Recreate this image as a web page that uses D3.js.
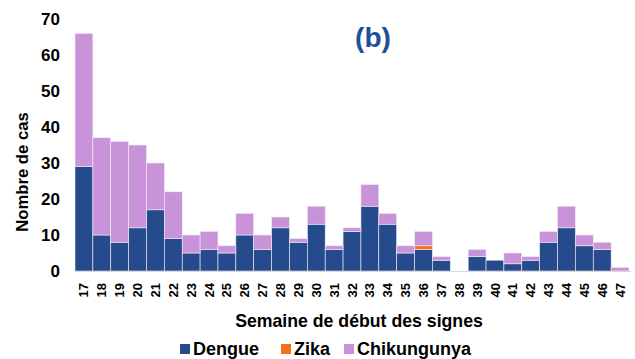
<!DOCTYPE html>
<html>
<head>
<meta charset="utf-8">
<script src="https://cdn.jsdelivr.net/npm/d3@7"></script>
<style>
  html, body { margin: 0; padding: 0; background: #fff; }
  svg { display: block; font-family: "Liberation Sans", Arial, sans-serif; }
</style>
</head>
<body>
<svg id="chart" width="635" height="359"></svg>
<script>
// Weekly case counts by date of symptom onset
const weeks = ["17","18","19","20","21","22","23","24","25","26","27","28","29","30","31","32",
               "33","34","35","36","37","38","39","40","41","42","43","44","45","46","47"];
const dengue = [29,10,8,12,17,9,5,6,5,10,6,12,8,13,6,11,18,13,5,6,3,0,4,3,2,3,8,12,7,6,0];
const zika   = [0,0,0,0,0,0,0,0,0,0,0,0,0,0,0,0,0,0,0,1,0,0,0,0,0,0,0,0,0,0,0];
const chik   = [37,27,28,23,13,13,5,5,2,6,4,3,1,5,1,1,6,3,2,4,1,0,2,0,3,1,3,6,3,2,1];
const yTicks = [0,10,20,30,40,50,60,70];
const seriesNames = ["Dengue","Zika","Chikungunya"];
const seriesColors = ["#264B8C","#F4701A","#C893D9"];

const rows = weeks.map((w, i) => ({ week: w, Dengue: dengue[i], Zika: zika[i], Chikungunya: chik[i] }));
const stacked = d3.stack().keys(seriesNames)(rows);

const svg = d3.select("#chart");
const m = { left: 75, right: 6, top: 19, bottom: 88 };
const W = 635, H = 359;

const x = d3.scaleBand().domain(weeks).range([m.left, W - m.right]).padding(0);
const y = d3.scaleLinear().domain([0, 70]).range([H - m.bottom, m.top]);
const color = d3.scaleOrdinal().domain(seriesNames).range(seriesColors);

// stacked bars
svg.append("g").selectAll("g").data(stacked).join("g")
  .attr("fill", d => color(d.key))
  .selectAll("rect").data(d => d).join("rect")
  .attr("x", d => x(d.data.week))
  .attr("width", x.bandwidth())
  .attr("y", d => y(d[1]))
  .attr("height", d => y(d[0]) - y(d[1]))
  .attr("stroke", "#f1ecf6")
  .attr("stroke-width", 0.6);

// baseline
svg.append("line")
  .attr("x1", m.left).attr("x2", W - m.right + 2)
  .attr("y1", y(0) + 0.5).attr("y2", y(0) + 0.5)
  .attr("stroke", "#d9d9d9").attr("stroke-width", 1);

// y axis: labels only
const yAxis = svg.append("g")
  .attr("transform", `translate(${m.left - 15},0)`)
  .call(d3.axisLeft(y).tickValues(yTicks).tickSize(0).tickPadding(0));
yAxis.select(".domain").remove();
yAxis.selectAll("text")
  .attr("font-size", 17).attr("font-weight", "bold").attr("fill", "#000")
  .attr("font-family", "Liberation Sans, Arial, sans-serif");

// x axis: rotated week labels
const xAxis = svg.append("g")
  .attr("transform", `translate(0,${y(0) + 12})`)
  .call(d3.axisBottom(x).tickSize(0).tickPadding(0));
xAxis.select(".domain").remove();
xAxis.selectAll("text")
  .attr("transform", "rotate(-90)")
  .attr("text-anchor", "end")
  .attr("dx", 0).attr("dy", "0.35em").attr("y", 0).attr("x", 0)
  .attr("font-size", 13).attr("font-weight", "bold").attr("fill", "#000")
  .attr("font-family", "Liberation Sans, Arial, sans-serif");

// axis titles
svg.append("text")
  .attr("x", 359).attr("y", 327)
  .attr("text-anchor", "middle")
  .attr("font-size", 17.7).attr("font-weight", "bold")
  .text("Semaine de début des signes");

svg.append("text")
  .attr("transform", "translate(28,172) rotate(-90)")
  .attr("text-anchor", "middle")
  .attr("font-size", 16.7).attr("font-weight", "bold")
  .text("Nombre de cas");

// panel label
svg.append("text")
  .attr("x", 373).attr("y", 47)
  .attr("text-anchor", "middle")
  .attr("font-size", 28).attr("font-weight", "bold")
  .attr("fill", "#1F4E9A")
  .text("(b)");

// legend
const legendX = [180, 281, 344];
const lg = svg.append("g").selectAll("g").data(seriesNames).join("g")
  .attr("transform", (d, i) => `translate(${legendX[i]},344)`);
lg.append("rect").attr("width", 10).attr("height", 10).attr("fill", d => color(d));
lg.append("text").attr("x", 13).attr("y", 11)
  .attr("font-size", 18).attr("font-weight", "bold").text(d => d);
</script>
</body>
</html>
